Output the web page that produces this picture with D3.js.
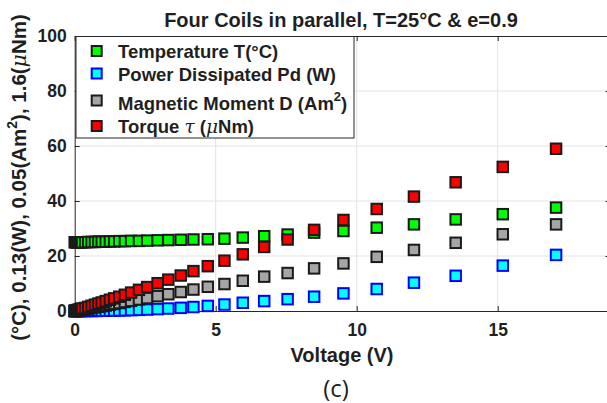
<!DOCTYPE html>
<html>
<head>
<meta charset="utf-8">
<script src="https://cdn.jsdelivr.net/npm/d3@7"></script>
<style>
  body { margin: 0; background: #fff; }
  text { font-family: "Liberation Sans", Arial, sans-serif; font-weight: bold; fill: #1f1f1f; }
  .tex { font-style: italic; font-weight: normal; font-family: "DejaVu Serif", serif; }
</style>
</head>
<body>
<div id="chart"></div>
<script>
// supply voltage (V) and the four measured quantities, each scaled onto the same axis
const voltage = [0, 0.03, 0.07, 0.11, 0.15, 0.2, 0.26, 0.37, 0.48, 0.6, 0.72, 0.84, 0.96, 1.1, 1.25, 1.4,
  1.58, 1.78, 2.0, 2.28, 2.57, 2.94, 3.32, 3.76, 4.21, 4.72, 5.31, 5.96, 6.72, 7.55, 8.49, 9.53,
  10.71, 12.03, 13.51, 15.18, 17.07];
const temperature = [25.0, 25.0, 25.0, 25.0, 25.0, 25.0, 25.0, 25.0, 25.1, 25.1, 25.1, 25.2, 25.2, 25.2, 25.3, 25.3,
  25.4, 25.4, 25.5, 25.5, 25.6, 25.7, 25.8, 25.9, 26.0, 26.1, 26.3, 26.7, 27.2, 27.8, 28.5, 29.1,
  30.3, 31.5, 33.3, 35.2, 37.6];
const power = [0, 0, 0, 0, 0, 0, 0.01, 0.01, 0.02, 0.03, 0.04, 0.06, 0.08, 0.1, 0.13, 0.16,
  0.2, 0.26, 0.32, 0.42, 0.53, 0.7, 0.9, 1.15, 1.45, 1.85, 2.35, 3.0, 3.6, 4.3, 5.2, 6.4,
  8.0, 10.3, 12.8, 16.5, 20.4];
const moment = [0, 0.05, 0.13, 0.2, 0.28, 0.37, 0.48, 0.68, 0.89, 1.1, 1.33, 1.55, 1.78, 2.0, 2.3, 2.6,
  2.9, 3.3, 3.7, 4.2, 4.7, 5.4, 6.1, 6.9, 7.8, 8.8, 9.8, 11.0, 12.5, 13.8, 15.5, 17.3,
  19.7, 22.2, 24.8, 27.9, 31.5];
const torque = [0, 0.1, 0.24, 0.38, 0.52, 0.7, 0.9, 1.1, 1.5, 1.9, 2.3, 2.7, 3.1, 3.6, 4.1, 4.6,
  5.2, 5.9, 6.7, 7.7, 8.7, 10.1, 11.4, 12.9, 14.5, 16.3, 18.3, 20.6, 23.3, 26.0, 29.5, 33.1,
  37.1, 41.6, 46.8, 52.4, 59.0];

const xTicks = [0, 5, 10, 15];
const yTicks = [0, 20, 40, 60, 80, 100];

const series = [
  { values: temperature, fill: "#00ff00", edge: "#1a1a1a" },
  { values: power, fill: "#00ffff", edge: "#0000ff" },
  { values: moment, fill: "#a6a6a6", edge: "#1a1a1a" },
  { values: torque, fill: "#ff0000", edge: "#1a1a1a" }
];

const [width, height] = [607, 403];

const x = d3.scaleLinear().domain([0, 19]).range([74.7, 610.5]);
const y = d3.scaleLinear().domain([0, 100]).range([311, 36]);

const svg = d3.select("#chart").append("svg")
  .attr("width", width)
  .attr("height", height);

// grid
const grid = svg.append("g").attr("stroke", "#e3e3e3").attr("stroke-width", 1);
grid.selectAll(".gx").data(xTicks.slice(1)).enter().append("line")
  .attr("x1", d => x(d)).attr("x2", d => x(d))
  .attr("y1", y(0)).attr("y2", y(100));
grid.selectAll(".gy").data(yTicks.slice(1, -1)).enter().append("line")
  .attr("x1", x(0)).attr("x2", x(19))
  .attr("y1", d => y(d)).attr("y2", d => y(d));

// axes (ticks pointing inward, box on)
const axisStyle = g => {
  g.select(".domain").attr("stroke", "#262626");
  g.selectAll(".tick line").attr("stroke", "#262626");
  g.selectAll(".tick text")
    .style("font-size", "17.5px")
    .style("font-family", "'Liberation Sans', Arial, sans-serif")
    .style("font-weight", "bold")
    .attr("fill", "#1f1f1f");
};

svg.append("g")
  .attr("transform", `translate(0,${y(0)})`)
  .call(d3.axisBottom(x).tickValues(xTicks).tickSizeInner(-5).tickSizeOuter(0).tickPadding(13))
  .call(axisStyle);

svg.append("g")
  .attr("transform", `translate(${x(0)},0)`)
  .call(d3.axisLeft(y).tickValues(yTicks).tickSizeInner(-5).tickSizeOuter(0).tickPadding(8))
  .call(axisStyle);

svg.append("g")
  .attr("transform", `translate(0,${y(100)})`)
  .call(d3.axisTop(x).tickValues(xTicks).tickSizeInner(-5).tickSizeOuter(0).tickFormat(""))
  .call(axisStyle);

svg.append("g")
  .attr("transform", `translate(${x(19)},0)`)
  .call(d3.axisRight(y).tickValues(yTicks).tickSizeInner(-5).tickSizeOuter(0).tickFormat(""))
  .call(axisStyle);

// markers
const size = 10.5;
series.forEach(s => {
  svg.append("g").selectAll("rect")
    .data(voltage.map((v, i) => [v, s.values[i]]))
    .enter().append("rect")
    .attr("x", d => x(d[0]) - size / 2)
    .attr("y", d => y(d[1]) - size / 2)
    .attr("width", size)
    .attr("height", size)
    .attr("fill", s.fill)
    .attr("stroke", s.edge)
    .attr("stroke-width", 2);
});

// legend
const legend = svg.append("g");
legend.append("rect")
  .attr("x", 76).attr("y", 36.5)
  .attr("width", 278).attr("height", 101.5)
  .attr("fill", "#fff")
  .attr("stroke", "#262626")
  .attr("stroke-width", 1);

const rows = [51, 73.5, 100.5, 126];

series.forEach((s, i) => {
  legend.append("rect")
    .attr("x", 96.7 - 5).attr("y", rows[i] - 5)
    .attr("width", 10).attr("height", 10)
    .attr("fill", s.fill).attr("stroke", s.edge).attr("stroke-width", 2);
});

const legendText = (i, dy) => legend.append("text")
  .attr("x", 118)
  .attr("y", rows[i] + dy)
  .style("font-size", "18.5px");

legendText(0, 7).text("Temperature T(°C)");
legendText(1, 7).text("Power Dissipated Pd (W)");
const l3 = legendText(2, 9.5);
l3.append("tspan").text("Magnetic Moment D (Am");
l3.append("tspan").attr("dy", -9).style("font-size", "13px").text("2");
l3.append("tspan").attr("dy", 9).text(")");
const l4 = legendText(3, 7);
l4.append("tspan").text("Torque ");
l4.append("tspan").attr("class", "tex").text("τ");
l4.append("tspan").text(" (");
l4.append("tspan").attr("class", "tex").text("μ");
l4.append("tspan").text("Nm)");

// title
svg.append("text")
  .attr("x", 341).attr("y", 27)
  .attr("text-anchor", "middle")
  .style("font-size", "20px")
  .text("Four Coils in parallel, T=25°C & e=0.9");

// x label
svg.append("text")
  .attr("x", 342).attr("y", 362)
  .attr("text-anchor", "middle")
  .style("font-size", "20px")
  .text("Voltage (V)");

// y label
const yl = svg.append("text")
  .attr("transform", `translate(26,${(y(0) + y(100)) / 2 + 4}) rotate(-90)`)
  .attr("text-anchor", "middle")
  .style("font-size", "20.5px");
yl.append("tspan").text("(°C), 0.13(W), 0.05(Am");
yl.append("tspan").attr("dy", -9).style("font-size", "14px").text("2");
yl.append("tspan").attr("dy", 9).text("), 1.6(");
yl.append("tspan").attr("class", "tex").text("μ");
yl.append("tspan").text("Nm)");

// panel tag
svg.append("text")
  .attr("x", 336).attr("y", 397)
  .attr("text-anchor", "middle")
  .style("font-family", "'Open Sans', sans-serif")
  .style("font-weight", "normal")
  .style("font-size", "24px")
  .attr("fill", "#000")
  .text("(c)");
</script>
</body>
</html>
